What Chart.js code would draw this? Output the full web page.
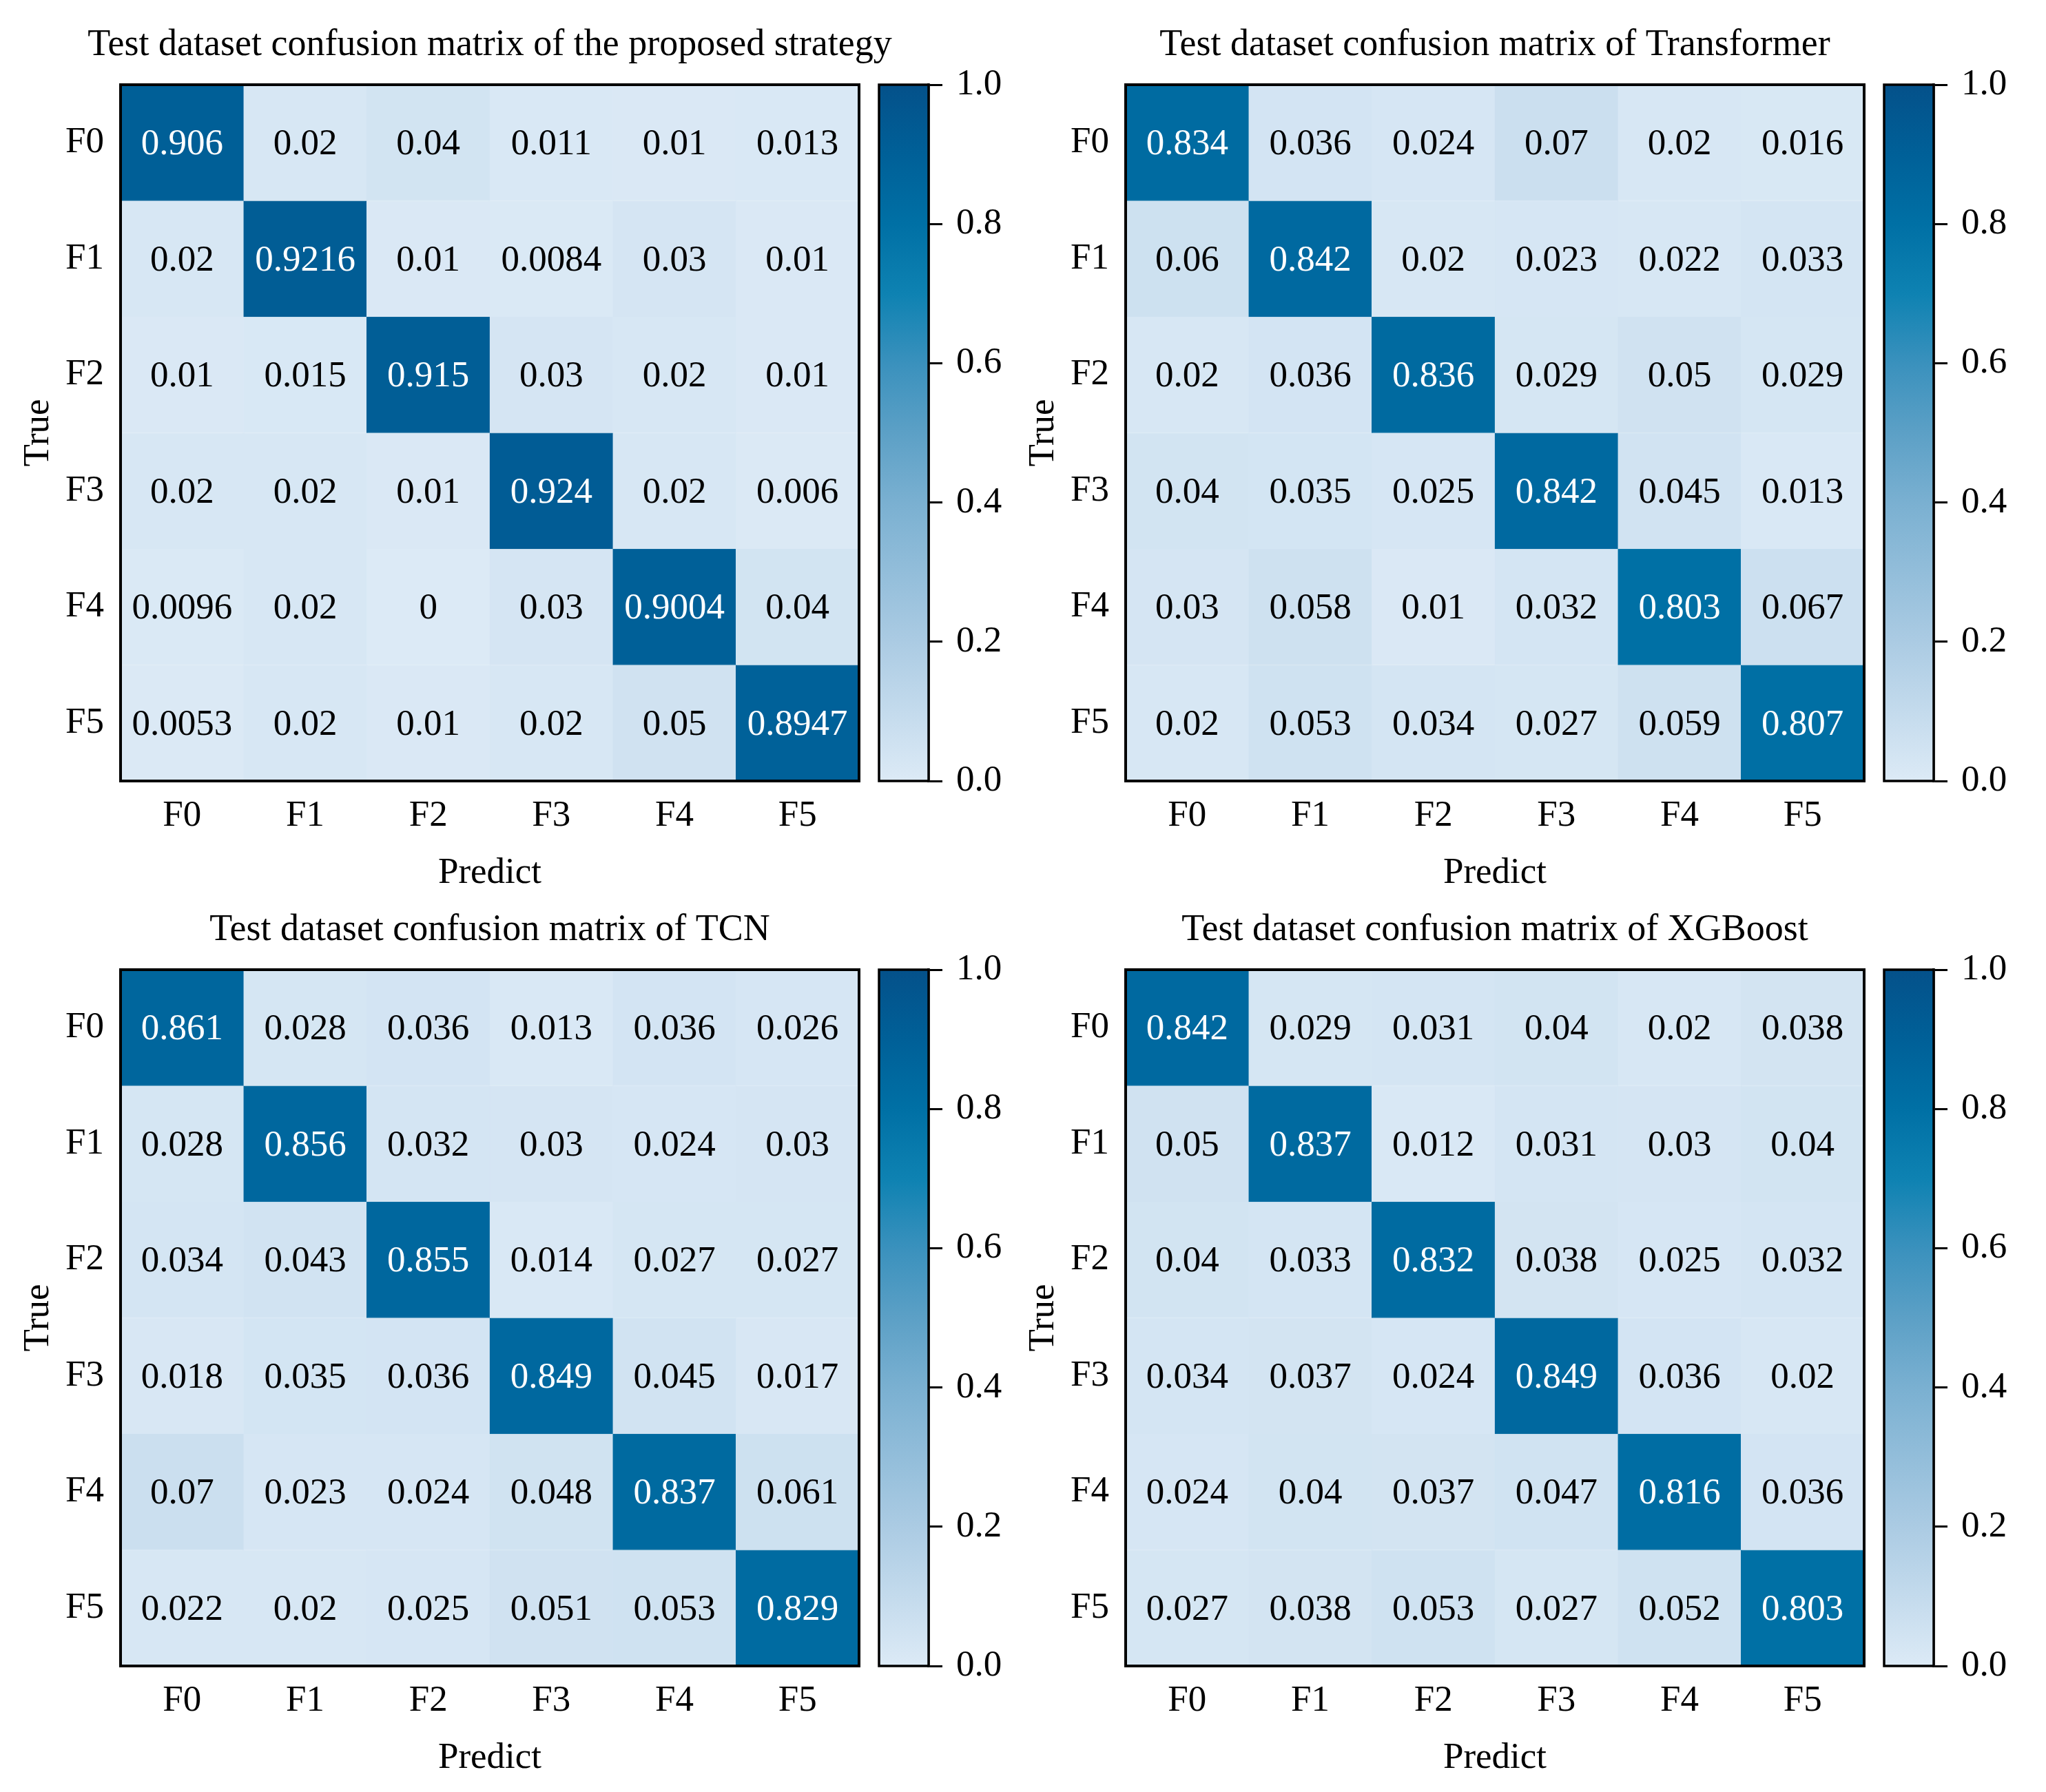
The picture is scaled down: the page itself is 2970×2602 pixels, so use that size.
<!DOCTYPE html>
<html>
<head>
<meta charset="utf-8">
<script src="https://cdn.jsdelivr.net/npm/chart.js@4.4.1/dist/chart.umd.min.js"></script>
<style>
html,body{margin:0;padding:0;background:#fff;}
#page{position:relative;width:2970px;height:2602px;background:#fff;overflow:hidden;}
canvas{position:absolute;}
</style>
</head>
<body>
<div id="page"></div>
<script>
// ---------------- DATA ----------------
const predictLabels = ['F0','F1','F2','F3','F4','F5'];
const trueLabels = ['F0','F1','F2','F3','F4','F5'];
const colorbarTicks = [0, 0.2, 0.4, 0.6, 0.8, 1.0];

const titleProposed = 'Test dataset confusion matrix of the proposed strategy';
const titleTransformer = 'Test dataset confusion matrix of Transformer';
const titleTCN = 'Test dataset confusion matrix of TCN';
const titleXGBoost = 'Test dataset confusion matrix of XGBoost';

const matrixProposed = [
  [0.906, 0.02, 0.04, 0.011, 0.01, 0.013],
  [0.02, 0.9216, 0.01, 0.0084, 0.03, 0.01],
  [0.01, 0.015, 0.915, 0.03, 0.02, 0.01],
  [0.02, 0.02, 0.01, 0.924, 0.02, 0.006],
  [0.0096, 0.02, 0, 0.03, 0.9004, 0.04],
  [0.0053, 0.02, 0.01, 0.02, 0.05, 0.8947]
];
const matrixTransformer = [
  [0.834, 0.036, 0.024, 0.07, 0.02, 0.016],
  [0.06, 0.842, 0.02, 0.023, 0.022, 0.033],
  [0.02, 0.036, 0.836, 0.029, 0.05, 0.029],
  [0.04, 0.035, 0.025, 0.842, 0.045, 0.013],
  [0.03, 0.058, 0.01, 0.032, 0.803, 0.067],
  [0.02, 0.053, 0.034, 0.027, 0.059, 0.807]
];
const matrixTCN = [
  [0.861, 0.028, 0.036, 0.013, 0.036, 0.026],
  [0.028, 0.856, 0.032, 0.03, 0.024, 0.03],
  [0.034, 0.043, 0.855, 0.014, 0.027, 0.027],
  [0.018, 0.035, 0.036, 0.849, 0.045, 0.017],
  [0.07, 0.023, 0.024, 0.048, 0.837, 0.061],
  [0.022, 0.02, 0.025, 0.051, 0.053, 0.829]
];
const matrixXGBoost = [
  [0.842, 0.029, 0.031, 0.04, 0.02, 0.038],
  [0.05, 0.837, 0.012, 0.031, 0.03, 0.04],
  [0.04, 0.033, 0.832, 0.038, 0.025, 0.032],
  [0.034, 0.037, 0.024, 0.849, 0.036, 0.02],
  [0.024, 0.04, 0.037, 0.047, 0.816, 0.036],
  [0.027, 0.038, 0.053, 0.027, 0.052, 0.803]
];

// ---------------- STYLE ----------------
const FONT = "'Liberation Serif', 'Times New Roman', serif";
const FS = 53;
const TITLE_FS = 54;
const cmapStops = [
  [0.0, [220,234,246]],
  [0.2, [171,203,227]],
  [0.4, [122,176,209]],
  [0.5, [92,160,198]],
  [0.6, [58,145,189]],
  [0.7, [14,130,178]],
  [0.8, [0,112,165]],
  [0.9, [0,96,152]],
  [1.0, [4,81,138]]
];
function cmap(v) {
  v = Math.max(0, Math.min(1, v));
  for (let i = 1; i < cmapStops.length; i++) {
    const [v1, c1] = cmapStops[i];
    const [v0, c0] = cmapStops[i-1];
    if (v <= v1) {
      const t = (v - v0) / (v1 - v0);
      const c = c0.map((a, k) => Math.round(a + (c1[k] - a) * t));
      return `rgb(${c[0]},${c[1]},${c[2]})`;
    }
  }
  const c = cmapStops[cmapStops.length-1][1];
  return `rgb(${c[0]},${c[1]},${c[2]})`;
}

Chart.defaults.font.family = FONT;
Chart.defaults.font.size = FS;
Chart.defaults.color = '#000';

const framePlugin = {
  id: 'frame',
  afterDraw(chart, args, opts) {
    const a = chart.chartArea;
    const ctx = chart.ctx;
    ctx.save();
    ctx.strokeStyle = '#000';
    ctx.lineWidth = opts.width || 4;
    ctx.strokeRect(a.left, a.top, a.right - a.left, a.bottom - a.top);
    ctx.restore();
  }
};

const cellLabelPlugin = {
  id: 'cellLabels',
  afterDatasetsDraw(chart, args, opts) {
    const m = opts.matrix;
    if (!m) return;
    const ctx = chart.ctx;
    ctx.save();
    ctx.font = `${FS}px ${FONT}`;
    ctx.textAlign = 'center';
    ctx.textBaseline = 'middle';
    chart.data.datasets.forEach((ds, r) => {
      const meta = chart.getDatasetMeta(r);
      meta.data.forEach((el, c) => {
        const p = el.getProps(['x', 'y', 'base'], true);
        const v = m[r][c];
        ctx.fillStyle = v > 0.5 ? '#fff' : '#000';
        ctx.fillText(String(v), p.x, (p.y + p.base) / 2 + 3);
      });
    });
    ctx.restore();
  }
};

const page = document.getElementById('page');
function makeCanvas(left, top, w, h) {
  const c = document.createElement('canvas');
  c.width = w; c.height = h;
  c.style.left = left + 'px'; c.style.top = top + 'px';
  c.style.width = w + 'px'; c.style.height = h + 'px';
  page.appendChild(c);
  return c;
}

function heatmap(left, top, title, matrix) {
  const cv = makeCanvas(left, top, 1422, 1300);
  const datasets = matrix.map((row, r) => ({
    label: trueLabels[r],
    data: row.map((v, c) => ({ x: predictLabels[c], y: [r, r + 1] })),
    backgroundColor: row.map(v => cmap(v)),
    borderColor: row.map(v => cmap(v)),
    borderWidth: 1,
    borderSkipped: false,
    grouped: false,
    categoryPercentage: 1,
    barPercentage: 1
  }));
  new Chart(cv, {
    type: 'bar',
    data: { labels: predictLabels, datasets },
    plugins: [cellLabelPlugin, framePlugin],
    options: {
      responsive: false,
      animation: false,
      devicePixelRatio: 1,
      layout: { padding: 0 },
      plugins: {
        legend: { display: false },
        tooltip: { enabled: false },
        title: {
          display: true, text: title, fullSize: true, color: '#000',
          font: { size: TITLE_FS, weight: 'normal', family: FONT, lineHeight: 1.2 },
          padding: { top: 33.6, bottom: 24.6 }
        },
        cellLabels: { matrix },
        frame: { width: 4 }
      },
      scales: {
        x: {
          type: 'category',
          offset: true,
          grid: { display: false, drawTicks: false },
          border: { display: false },
          ticks: { padding: 19, font: { size: FS }, color: '#000', maxRotation: 0 },
          title: { display: true, text: 'Predict', color: '#000', font: { size: FS, lineHeight: 1.2 }, padding: { top: 0, bottom: 0 } },
          afterFit(s) { s.height = 166; }
        },
        y: {
          type: 'linear',
          min: 0, max: 6, reverse: true,
          grid: { display: false, drawTicks: false },
          border: { display: false },
          afterBuildTicks(s) { s.ticks = trueLabels.map((_, i) => ({ value: i + 0.5 })); },
          ticks: { padding: 24, font: { size: FS }, color: '#000', callback: (v, i) => trueLabels[i] },
          title: { display: true, text: 'True', color: '#000', font: { size: FS, lineHeight: 1.2 }, padding: { top: 24, bottom: 0 } },
          afterFit(s) { s.width = 175; }
        },
        ySpacer: {
          type: 'linear', position: 'right',
          grid: { display: false, drawTicks: false },
          border: { display: false },
          ticks: { display: false },
          afterFit(s) { s.width = 175; }
        }
      }
    }
  });
}

function colorbar(left, top) {
  const cv = makeCanvas(left, top, 220, 1300);
  new Chart(cv, {
    type: 'bar',
    data: {
      labels: [''],
      datasets: [{
        data: [[0, 1]],
        backgroundColor: (ctx) => {
          const a = ctx.chart.chartArea;
          if (!a) return cmap(0.5);
          const g = ctx.chart.ctx.createLinearGradient(0, a.bottom, 0, a.top);
          cmapStops.forEach(([v, c]) => g.addColorStop(v, `rgb(${c[0]},${c[1]},${c[2]})`));
          return g;
        },
        borderWidth: 0,
        categoryPercentage: 1,
        barPercentage: 1
      }]
    },
    plugins: [framePlugin],
    options: {
      responsive: false,
      animation: false,
      devicePixelRatio: 1,
      layout: { padding: { left: 16, right: 0, top: 123, bottom: 166 } },
      plugins: { legend: { display: false }, tooltip: { enabled: false }, frame: { width: 3.5 } },
      scales: {
        x: { display: false, offset: true },
        y: {
          type: 'linear', position: 'right', min: 0, max: 1,
          afterBuildTicks(s) { s.ticks = colorbarTicks.map(v => ({ value: v })); },
          ticks: { padding: 20, font: { size: FS }, color: '#000', callback: v => Number(v).toFixed(1) },
          grid: { display: true, drawOnChartArea: false, drawTicks: true, tickLength: 20, color: '#000', lineWidth: 3 },
          border: { display: true, color: '#000', width: 3.5 },
          afterFit(s) { s.width = 132; }
        }
      }
    }
  });
}

const DX = 1459, DY = 1285;
heatmap(0, 0, titleProposed, matrixProposed);
colorbar(1260, 0);
heatmap(DX, 0, titleTransformer, matrixTransformer);
colorbar(1260 + DX, 0);
heatmap(0, DY, titleTCN, matrixTCN);
colorbar(1260, DY);
heatmap(DX, DY, titleXGBoost, matrixXGBoost);
colorbar(1260 + DX, DY);
</script>
</body>
</html>
